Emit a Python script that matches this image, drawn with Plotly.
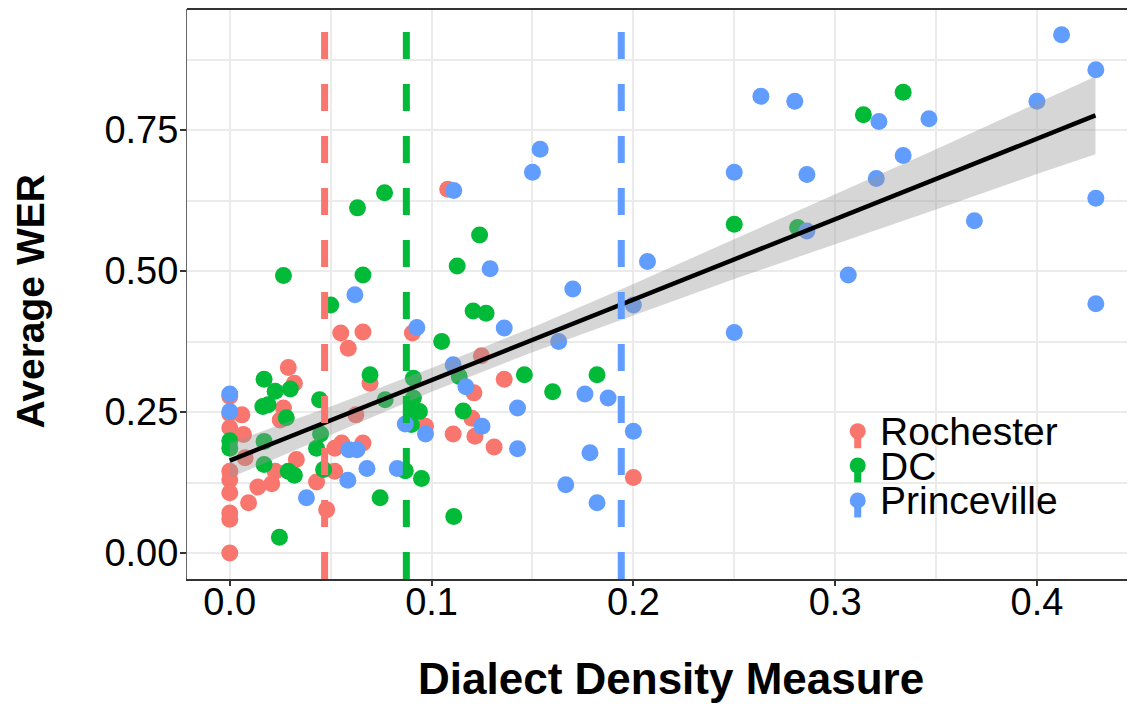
import plotly.graph_objects as go

# per-speaker points: dialect density vs average WER
rochester_x = [0.0, 0.0, 0.006, 0.0, 0.0068, 0.0076, 0.0, 0.0, 0.0, 0.0, 0.0, 0.0,
               0.0093, 0.0139, 0.0208, 0.0225, 0.0266, 0.025, 0.029, 0.032, 0.033,
               0.043, 0.048, 0.052, 0.052, 0.0555, 0.066, 0.055, 0.066, 0.0587,
               0.0625, 0.0695, 0.0905, 0.097, 0.108, 0.1107, 0.1215, 0.120, 0.121,
               0.1247, 0.131, 0.136, 0.200]
rochester_y = [0.278, 0.247, 0.245, 0.222, 0.210, 0.169, 0.145, 0.130, 0.107, 0.071, 0.060, 0.0,
               0.089, 0.117, 0.123, 0.145, 0.257, 0.236, 0.329, 0.301, 0.166,
               0.126, 0.077, 0.145, 0.186, 0.195, 0.195, 0.390, 0.392, 0.363,
               0.245, 0.301, 0.390, 0.225, 0.645, 0.211, 0.207, 0.239, 0.284,
               0.350, 0.188, 0.308, 0.134]

dc_x = [0.0266, 0.066, 0.050, 0.0633, 0.0767, 0.1238, 0.1127, 0.1206, 0.127, 0.105,
        0.017, 0.0225, 0.030, 0.0695, 0.0164, 0.019, 0.0445, 0.077, 0.091, 0.091,
        0.090, 0.094, 0.090, 0.0, 0.0, 0.045, 0.017, 0.043, 0.017, 0.029, 0.032,
        0.0465, 0.087, 0.095, 0.0745, 0.0246, 0.111, 0.1137, 0.1157, 0.146, 0.160,
        0.182, 0.250, 0.2814, 0.314, 0.3337, 0.028]
dc_y = [0.492, 0.493, 0.440, 0.612, 0.639, 0.564, 0.509, 0.429, 0.425, 0.375,
        0.308, 0.287, 0.291, 0.316, 0.260, 0.263, 0.272, 0.272, 0.310, 0.275,
        0.251, 0.251, 0.228, 0.199, 0.186, 0.211, 0.198, 0.186, 0.157, 0.145, 0.138,
        0.148, 0.146, 0.132, 0.098, 0.028, 0.065, 0.313, 0.252, 0.316, 0.286,
        0.316, 0.583, 0.577, 0.777, 0.817, 0.240]

princeville_x = [0.062, 0.0927, 0.0, 0.0, 0.087, 0.097, 0.059, 0.063, 0.068, 0.083,
                 0.0585, 0.038, 0.1538, 0.150, 0.111, 0.129, 0.170, 0.207, 0.136,
                 0.163, 0.200, 0.1107, 0.117, 0.176, 0.1875, 0.1426, 0.125, 0.200,
                 0.1426, 0.1785, 0.1665, 0.182, 0.4122, 0.4292, 0.2632, 0.280,
                 0.3217, 0.3465, 0.400, 0.3337, 0.250, 0.286, 0.3204, 0.4292,
                 0.369, 0.286, 0.3065, 0.4292, 0.250]
princeville_y = [0.458, 0.400, 0.282, 0.251, 0.229, 0.211, 0.183, 0.183, 0.150, 0.150,
                 0.129, 0.098, 0.716, 0.675, 0.643, 0.504, 0.468, 0.517, 0.399,
                 0.375, 0.440, 0.334, 0.295, 0.282, 0.275, 0.257, 0.225, 0.216,
                 0.185, 0.178, 0.121, 0.089, 0.919, 0.857, 0.810, 0.801,
                 0.765, 0.770, 0.801, 0.705, 0.675, 0.671, 0.664, 0.629,
                 0.589, 0.571, 0.493, 0.442, 0.391]

# mean dialect density of each site (dashed lines)
site_names = ["Rochester", "DC", "Princeville"]
site_means = [0.047, 0.0875, 0.194]

# linear fit + confidence band
fit_x = [0.0, 0.429]
fit_y = [0.164, 0.776]
band_x = [0.0, 0.05, 0.1, 0.15, 0.2, 0.25, 0.3, 0.35, 0.4, 0.429]
band_lower = [0.133, 0.210, 0.286, 0.356, 0.421, 0.486, 0.548, 0.609, 0.672, 0.707]
band_upper = [0.195, 0.260, 0.328, 0.400, 0.477, 0.556, 0.636, 0.716, 0.798, 0.845]

COLORS = {"Rochester": "#F8766D", "DC": "#00BA38", "Princeville": "#619CFF"}
FONT = "Liberation Sans, Arial, sans-serif"

series = {
    "Rochester": (rochester_x, rochester_y),
    "DC": (dc_x, dc_y),
    "Princeville": (princeville_x, princeville_y),
}

fig = go.Figure()

for name, (xs, ys) in series.items():
    fig.add_trace(go.Scatter(
        x=xs, y=ys, mode="markers", name=name, showlegend=False,
        marker=dict(size=17, color=COLORS[name], line=dict(width=0)),
    ))

# confidence band drawn over the points like geom_smooth
fig.add_trace(go.Scatter(
    x=band_x + band_x[::-1],
    y=band_upper + band_lower[::-1],
    fill="toself", fillcolor="rgba(153,153,153,0.4)",
    mode="lines", line=dict(width=0), hoverinfo="skip", showlegend=False,
))
fig.add_trace(go.Scatter(
    x=fit_x, y=fit_y, mode="lines", line=dict(color="black", width=4.5),
    showlegend=False,
))

# dashed site means
for name, xm in zip(site_names, site_means):
    fig.add_shape(
        type="line", xref="x", yref="paper", x0=xm, x1=xm, y0=0, y1=1,
        line=dict(color=COLORS[name], width=7, dash="27px,25px"), layer="above",
    )

# top border of the panel
fig.add_shape(type="line", xref="paper", yref="paper", x0=0, x1=1, y0=1, y1=1,
              line=dict(color="#333333", width=2), layer="above")

# hand-drawn legend (point + vline key)
legend_x = 0.7075
legend_y = [0.2592, 0.1991, 0.1378]
for name, ly in zip(site_names, legend_y):
    c = COLORS[name]
    fig.add_shape(type="rect", xref="paper", yref="paper",
                  xsizemode="pixel", ysizemode="pixel",
                  xanchor=legend_x, yanchor=ly, x0=-3.5, x1=3.5, y0=-17, y1=0,
                  fillcolor=c, line=dict(width=0), layer="above")
    fig.add_shape(type="circle", xref="paper", yref="paper",
                  xsizemode="pixel", ysizemode="pixel",
                  xanchor=legend_x, yanchor=ly, x0=-8, x1=8, y0=-8, y1=8,
                  fillcolor=c, line=dict(width=0), layer="above")
    fig.add_annotation(
        x=0.7286, y=ly, xref="paper", yref="paper", text=name,
        showarrow=False, xanchor="left", yanchor="middle", height=34, valign="middle",
        font=dict(family=FONT, size=39, color="black"),
    )

# axis titles
fig.add_annotation(
    x=0.5105, y=-0.182, xref="paper", yref="paper", text="<b>Dialect Density Measure</b>",
    showarrow=False, xanchor="center", yanchor="middle", yshift=4,
    font=dict(family=FONT, size=44, color="black"),
)
fig.add_annotation(
    x=-0.1656, y=0.487, xref="paper", yref="paper", text="<b>Average WER</b>",
    showarrow=False, xanchor="center", yanchor="middle", textangle=-90,
    font=dict(family=FONT, size=39, color="black"),
)

fig.update_xaxes(
    range=[-0.0212, 0.4486], tickvals=[0.0, 0.1, 0.2, 0.3, 0.4], tickformat=".1f",
    showgrid=True, gridcolor="#ebebeb", gridwidth=2,
    minor=dict(tickvals=[0.05, 0.15, 0.25, 0.35, 0.45], showgrid=True,
               gridcolor="#ebebeb", gridwidth=2),
    zeroline=False, showline=True, linecolor="#333333", linewidth=2,
    ticks="outside", ticklen=5, tickwidth=1.5, tickcolor="#333333",
    ticklabelstandoff=-17, automargin=False,
    tickfont=dict(family=FONT, size=38, color="black"),
)
fig.update_yaxes(
    range=[-0.046, 0.9646], tickvals=[0.0, 0.25, 0.5, 0.75], tickformat=".2f",
    showgrid=True, gridcolor="#ebebeb", gridwidth=2,
    minor=dict(tickvals=[0.125, 0.375, 0.625, 0.875], showgrid=True,
               gridcolor="#ebebeb", gridwidth=2),
    zeroline=False, showline=True, linecolor="#666666", linewidth=1,
    ticks="outside", ticklen=6, tickwidth=1.5, tickcolor="#333333",
    ticklabelstandoff=-6, automargin=False,
    tickfont=dict(family=FONT, size=38, color="black"),
)

# the page body adds an 8px offset, so margins are shifted to compensate
fig.update_layout(
    width=1135, height=704,
    margin=dict(l=179, r=8, t=1, b=133),
    plot_bgcolor="white", paper_bgcolor="white",
    showlegend=False,
)

fig.write_html("out.html")
